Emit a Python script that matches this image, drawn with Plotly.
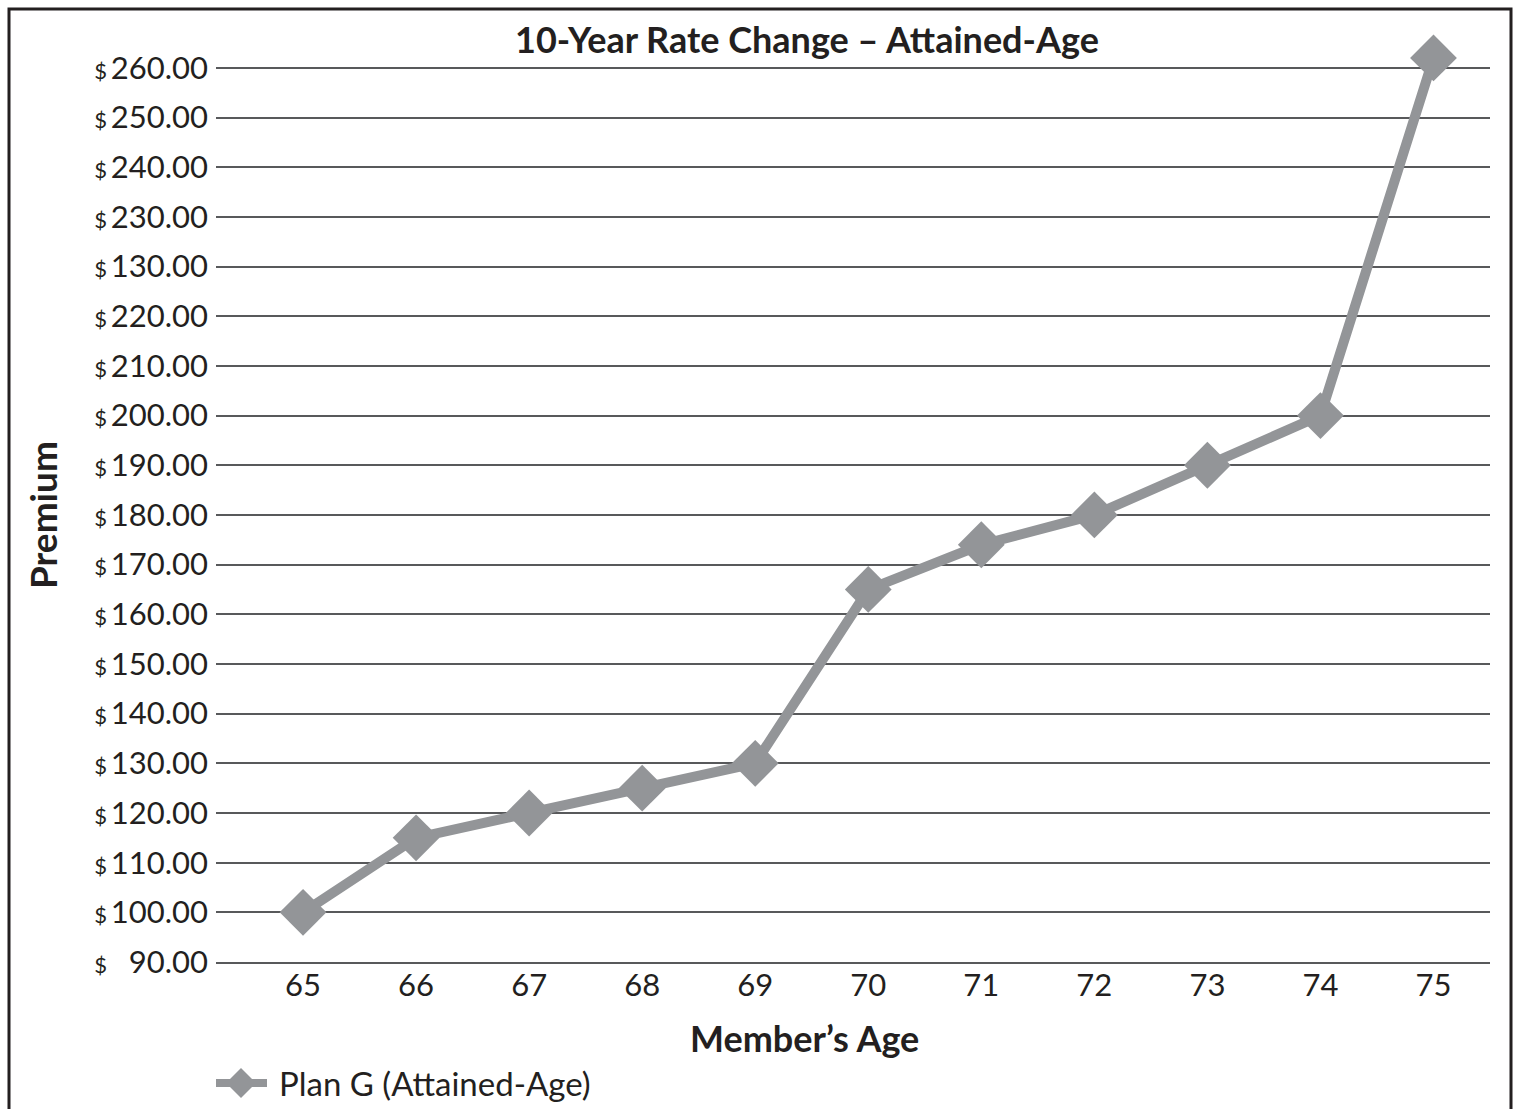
import plotly.graph_objects as go

ages = [65, 66, 67, 68, 69, 70, 71, 72, 73, 74, 75]
premium = [100, 115, 120, 125, 130, 165, 174, 180, 190, 200, 272]
tick_positions = [90, 100, 110, 120, 130, 140, 150, 160, 170, 180, 190, 200, 210, 220, 230, 240, 250, 260, 270]
tick_labels = ["\u200790.00", "100.00", "110.00", "120.00", "130.00", "140.00", "150.00", "160.00",
               "170.00", "180.00", "190.00", "200.00", "210.00", "220.00", "130.00", "230.00",
               "240.00", "250.00", "260.00"]
series_name = "Plan G (Attained-Age)"
title_text = "10-Year Rate Change \u2013 Attained-Age"
x_title = "Member\u2019s Age"
y_title = "Premium"

FONT = "Lato"
TXT = "#231f20"
GRAY = "#939598"
GRID = "#58595b"

W, H = 1520, 1109
L, R, T, B = 216, 30, 48, 147
PW, PH = W - L - R, H - T - B

def px(x):
    return (x - L) / PW

def py(y):
    return (H - B - y) / PH

ticktext = ["<span style='font-size:22px'>$</span>\u2009" + t for t in tick_labels]

fig = go.Figure()
fig.add_trace(go.Scatter(
    x=ages, y=premium, mode="lines+markers", name=series_name,
    line=dict(color=GRAY, width=10),
    marker=dict(symbol="diamond", size=36, color=GRAY),
    cliponaxis=False, showlegend=False,
))

dx, dy = 15 / PW, 15 / PH
lx, ly = px(241), py(1083)

fig.update_layout(
    width=W, height=H,
    margin=dict(l=L, r=R, t=T, b=B),
    paper_bgcolor="white", plot_bgcolor="white",
    font=dict(family=FONT, color=TXT, size=31),
    showlegend=False,
    xaxis=dict(
        range=[64.23, 75.5], tickmode="array", tickvals=ages, ticktext=[str(a) for a in ages],
        showgrid=False, zeroline=False, showline=True, linecolor=GRID, linewidth=2.4, ticks="",
        tickfont=dict(size=31), ticklabelstandoff=-5,
    ),
    yaxis=dict(
        range=[90, 274], tickmode="array", tickvals=tick_positions, ticktext=ticktext,
        showgrid=True, gridcolor=GRID, gridwidth=2.4, zeroline=False, showline=False, ticks="",
        tickfont=dict(size=31), ticklabelstandoff=7,
    ),
    annotations=[
        dict(text="<b>" + title_text + "</b>", xref="paper", yref="paper",
             x=px(807), y=py(39), xanchor="center", yanchor="middle",
             showarrow=False, font=dict(size=36, family=FONT, color=TXT)),
        dict(text="<b>" + x_title + "</b>", xref="paper", yref="paper",
             x=px(804), y=py(1038), xanchor="center", yanchor="middle",
             showarrow=False, font=dict(size=36, family=FONT, color=TXT)),
        dict(text="<b>" + y_title + "</b>", xref="paper", yref="paper",
             x=px(42), y=py(515), xanchor="center", yanchor="middle",
             textangle=-90, showarrow=False, font=dict(size=37, family=FONT, color=TXT)),
        dict(text=series_name, xref="paper", yref="paper",
             x=px(277), y=py(1083), xanchor="left", yanchor="middle",
             showarrow=False, font=dict(size=33, family=FONT, color=TXT)),
    ],
    shapes=[
        dict(type="path", xref="paper", yref="paper",
             path="M {x0},{y0} L {x0},{y1} L {x2},{y1} L {x2},{y0}".format(
                 x0=px(9), y0=py(1115), y1=py(9), x2=px(1511)),
             line=dict(color=TXT, width=3)),
        dict(type="line", xref="paper", yref="paper",
             x0=px(216), x1=px(267), y0=ly, y1=ly,
             line=dict(color=GRAY, width=8)),
        dict(type="path", xref="paper", yref="paper",
             path="M {a},{b} L {c},{d} L {a},{e} L {f},{d} Z".format(
                 a=lx, b=ly + dy, c=lx + dx, d=ly, e=ly - dy, f=lx - dx),
             fillcolor=GRAY, line=dict(color=GRAY, width=0)),
    ],
)

fig.write_html("out.html", config={"displayModeBar": False},
               post_script="document.body.style.margin='0';")
